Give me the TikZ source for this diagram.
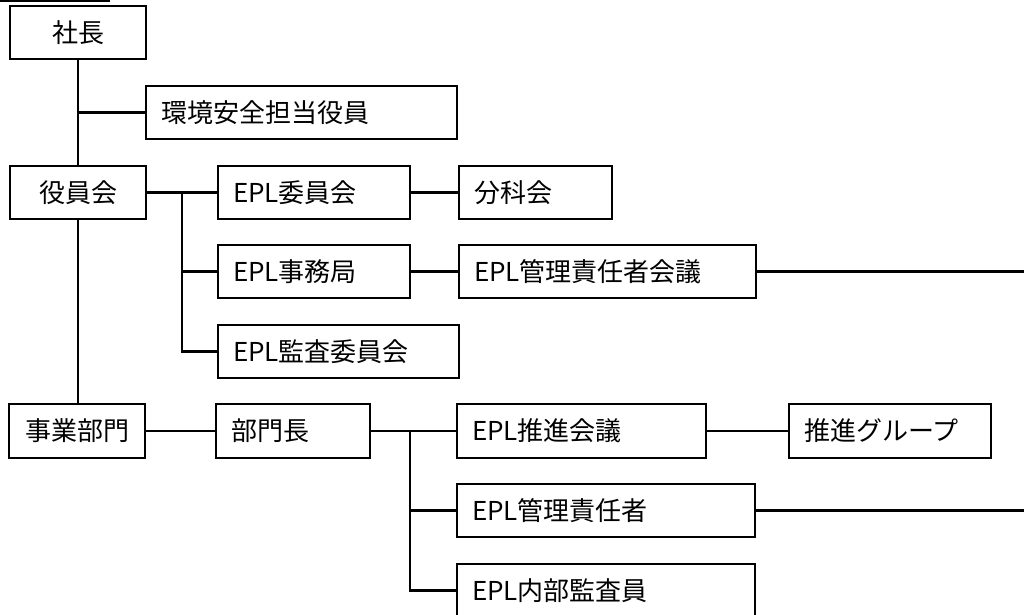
\documentclass[tikz,border=0pt]{standalone}
\usepackage{fontspec}
\setmainfont{Noto Sans CJK JP}
\begin{document}
\begin{tikzpicture}[x=1pt,y=-1pt,
  orgbox/.style={draw, line width=2.5pt, outer sep=0pt, inner sep=0pt, anchor=north west,
    minimum height=53pt, align=left, font=\fontsize{26}{30}\selectfont},
  conn/.style={line width=2.5pt}]
\useasboundingbox (0,0) rectangle (1024,614);
\clip (0,0) rectangle (1024,614);
% top rule
\coordinate (t0) at (0,1);
\coordinate (t1) at (110,1);
\draw[line width=2pt] (t0) -- (t1);
% boxes
\node[orgbox, minimum width=136pt, align=center] (shacho) at (10,6) {社長};
\node[orgbox, minimum width=311pt, text width=281pt] (kankyo) at (146,86) {環境安全担当役員};
\node[orgbox, minimum width=136pt, align=center] (yakuin) at (10,166) {役員会};
\node[orgbox, minimum width=192pt, text width=162pt] (iinkai) at (218,166) {EPL委員会};
\node[orgbox, minimum width=153pt, text width=123pt] (bunka) at (459,166) {分科会};
\node[orgbox, minimum width=192pt, text width=162pt] (jimu) at (218,245) {EPL事務局};
\node[orgbox, minimum width=297pt, text width=267pt] (kaigi) at (459,245) {EPL管理責任者会議};
\node[orgbox, minimum width=241pt, text width=211pt] (kansa) at (218,325) {EPL監査委員会};
\node[orgbox, minimum width=136pt, align=center, minimum height=54pt] (jigyo) at (9,404) {事業部門};
\node[orgbox, minimum width=154pt, text width=124pt, minimum height=54pt] (bumoncho) at (216,404) {部門長};
\node[orgbox, minimum width=249pt, text width=219pt, minimum height=54pt] (suishin) at (457,404) {EPL推進会議};
\node[orgbox, minimum width=202pt, text width=172pt, minimum height=54pt] (group) at (789,404) {推進グループ};
\node[orgbox, minimum width=298pt, text width=268pt] (kanrisha) at (457,484) {EPL管理責任者};
\node[orgbox, minimum width=298pt, text width=268pt] (naibu) at (457,564) {EPL内部監査員};
% trunk
\draw[conn] (shacho.south) -- (yakuin.north);
\draw[conn] (yakuin.south) -- (yakuin.south |- jigyo.north);
\coordinate (kj) at (shacho.south |- kankyo.west);
\draw[conn] (kj) -- (kankyo.west);
% board branch
\draw[conn] (yakuin.east) -- (iinkai.west);
\path (yakuin.east) ++(36,0) coordinate (b1);
\draw[conn] (b1) |- (kansa.west);
\coordinate (b1j) at (b1 |- jimu.west);
\draw[conn] (b1j) -- (jimu.west);
\draw[conn] (iinkai.east) -- (bunka.west);
\draw[conn] (jimu.east) -- (kaigi.west);
\coordinate (r1) at (1030,271.5);
\draw[conn] (kaigi.east) -- (r1);
% division branch
\draw[conn] (jigyo.east) -- (jigyo.east -| bumoncho.west);
\draw[conn] (bumoncho.east) -- (suishin.west);
\path (bumoncho.east) ++(40,0) coordinate (b2);
\draw[conn] (b2) |- (naibu.west);
\coordinate (b2k) at (b2 |- kanrisha.west);
\draw[conn] (b2k) -- (kanrisha.west);
\draw[conn] (suishin.east) -- (group.west);
\coordinate (r2) at (1030,510.5);
\draw[conn] (kanrisha.east) -- (r2);
\end{tikzpicture}
\end{document}
